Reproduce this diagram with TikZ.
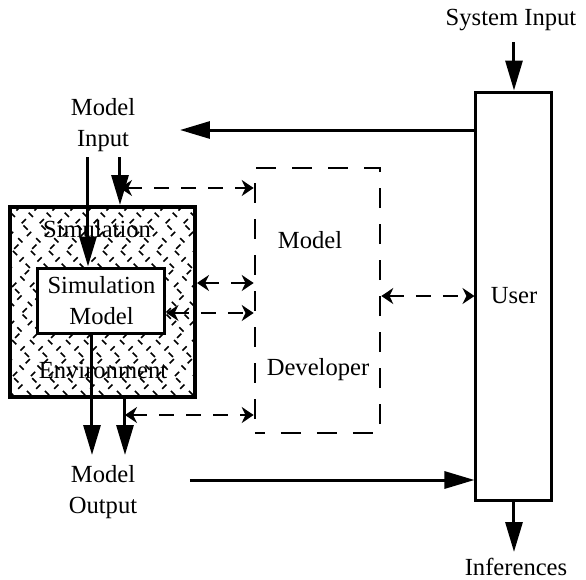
\documentclass[tikz,border=0pt]{standalone}
\usepackage{fontspec}
\setmainfont{Liberation Serif}
\usepackage{tikz}
\usetikzlibrary{arrows.meta,positioning}

\begin{document}
\begin{tikzpicture}[
  x=0.5pt, y=-0.5pt,
  font=\fontsize{12.3}{15.5}\selectfont,
  lbl/.style={align=center, inner sep=0pt},
  userbox/.style={draw, line width=1.5pt, minimum width=38pt, minimum height=204pt, inner sep=0pt},
  envbox/.style={draw, line width=2pt, minimum width=92.5pt, minimum height=95pt, inner sep=0pt},
  modelbox/.style={draw, line width=1.5pt, fill=white, align=center, minimum width=63.5pt, minimum height=32.5pt, inner sep=0pt},
  devbox/.style={draw, line width=1.3pt, dash pattern=on 10pt off 8pt, dash phase=5pt, minimum width=62.5pt, minimum height=132.5pt, inner sep=0pt},
  hatch/.style={line width=0.8pt, dash pattern=on 3pt off 6pt},
  arr/.style={-{Triangle[length=15pt,width=8.5pt]}, line width=1.5pt},
  darr/.style={{Stealth[length=6pt,width=8pt]}-{Stealth[length=6pt,width=8pt]}, line width=1.3pt, dash pattern=on 7.5pt off 6pt}
]
\useasboundingbox (0,0) rectangle (586,580);

% hatched environment
\begin{scope}
  \clip (10,207) rectangle (195,397);
  \foreach \k in {-200,-182,...,200} {
    \draw[hatch] (\k,200) -- ++(210,210);
    \draw[hatch, dash phase=4.5pt] (\k+209,200) -- ++(-210,210);
  }
\end{scope}
\node[envbox] (env) at (102.5,302) {};
\node[modelbox] (simmodel) at (101.5,300.5) {Simulation\\Model};
\node[lbl] (envtop) at (97,229) {Simulation};
\node[lbl] (envbot) at (103,370) {Environment};

% developer and user
\node[devbox] (dev) at (317.5,300.5) {};
\node[lbl] (devtop) at (310,240) {Model};
\node[lbl] (devbot) at (318,370) {Developer};
\node[userbox] (user) at (514,296) {User};

% outside labels
\node[lbl] (sysin) at (511,20) {System Input};
\node[lbl] (inf) at (516,567) {Inferences};
\node[lbl] (minput) at (103,125) {Model\\Input};
\node[lbl] (moutput) at (103,492) {Model\\Output};

\coordinate (in1) at (88,157);
\coordinate (in2) at (120,157);
\coordinate (out1) at (92,455);
\coordinate (out2) at (125,455);
\coordinate (ret) at (180,130);
\coordinate (fwd) at (190,480);

% solid arrows
\draw[arr] (user.north |- 0,42) -- (user.north);
\draw[arr] (user.south) -- (user.south |- 0,552);
\draw[arr] (ret -| user.west) -- (ret);
\draw[arr] (fwd) -- (fwd -| user.west);
\draw[arr] (in1) -- (in1 |- simmodel.north);
\draw[arr] (in2) -- (in2 |- env.north);
\draw[arr] (out1 |- simmodel.south) -- (out1);
\draw[arr] (out2 |- env.south) -- (out2);

% dashed links
\draw[darr] (120,188) -- (dev.west |- 0,188);
\draw[darr] (env.east |- 0,283) -- (dev.west |- 0,283);
\draw[darr] (simmodel.east |- 0,313) -- (dev.west |- 0,313);
\draw[darr] (125,415) -- (dev.west |- 0,415);
\draw[darr] (dev.east |- user.west) -- (user.west);
\end{tikzpicture}
\end{document}
